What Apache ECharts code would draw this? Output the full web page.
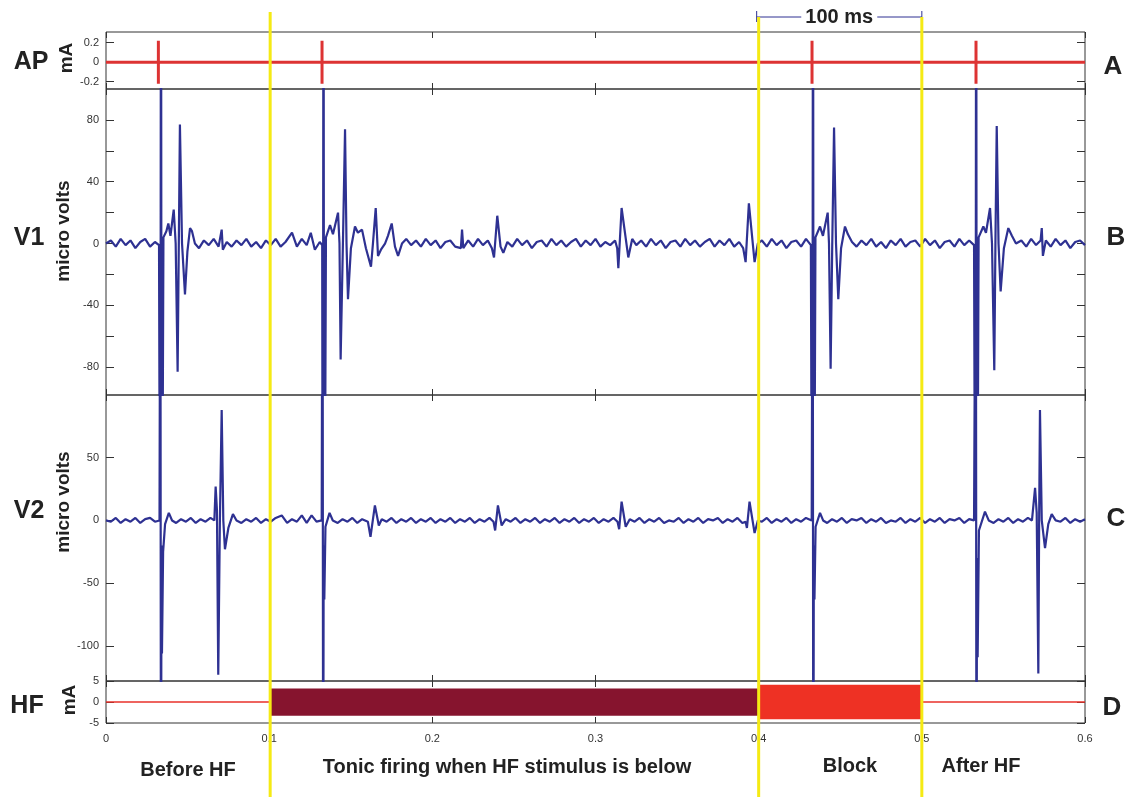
<!DOCTYPE html>
<html><head><meta charset="utf-8">
<script src="https://cdn.jsdelivr.net/npm/echarts@6/dist/echarts.min.js"></script>
<style>html,body{margin:0;padding:0;background:#fff}#c{width:1127px;height:797px}</style>
</head><body><div id="c"></div>
<script>
// ---------------- DATA ----------------
const xTickLabels = ['0','0.1','0.2','0.3','0.4','0.5','0.6'];
const apTicks = [-0.2, 0, 0.2];
const v1Ticks = [-80,-60,-40,-20,0,20,40,60,80];
const v1Labels = [-80,-40,0,40,80];
const v2Ticks = [-100,-50,0,50];
const hfTicks = [-5,0,5];

const apSpikeTimes = [0.0321, 0.1324, 0.4327, 0.5332];
const apSpikeAmp = 0.22;

const v1 = [
[0.000,0],[0.003,2],[0.006,-2],[0.009,3],[0.012,-1],[0.015,2],[0.018,-3],[0.021,1],[0.024,3],[0.027,-2],[0.030,1],[0.0325,-1],
[0.0333,-300],[0.0337,300],[0.0341,-300],[0.0352,4],[0.0370,8],[0.0382,13],[0.0395,5],[0.0415,22],[0.0427,0],[0.0439,-83],[0.0453,77],[0.0466,0],[0.0484,-33],[0.0499,-5],[0.0515,10],[0.0527,8],[0.0545,0],
[0.057,-3],[0.060,2],[0.063,-1],[0.066,3],[0.069,-2],[0.0709,9],[0.0716,-4],[0.074,1],[0.077,-2],[0.080,2],[0.083,-1],[0.086,3],[0.089,-2],[0.092,1],[0.095,-3],[0.098,2],[0.101,-1],[0.104,3],[0.107,-2],[0.110,1],[0.114,7],[0.117,-2],[0.120,3],[0.123,-1],[0.1255,7],[0.128,-4],[0.131,1],[0.1325,-1],
[0.1329,-300],[0.1333,300],[0.1337,-300],[0.1348,4],[0.1373,12],[0.1391,6],[0.1422,20],[0.1431,0],[0.1438,-75],[0.1452,0],[0.1465,74],[0.1474,0],[0.1483,-36],[0.1501,-3],[0.1526,11],[0.1544,7],[0.1569,9],[0.1593,-3],[0.1624,-15],[0.1636,0],[0.1653,23],[0.1667,-8],[0.1685,-4],[0.171,0],[0.1728,5],[0.1751,13],[0.1771,-2],[0.179,-8],[0.1814,0],
[0.184,3],[0.187,-1],[0.190,2],[0.193,-2],[0.196,3],[0.199,-1],[0.202,2],[0.205,-3],[0.208,1],[0.211,2],[0.214,-2],[0.2175,-3],[0.2182,9],[0.219,-3],[0.222,2],[0.225,-2],[0.228,3],[0.231,-1],[0.234,2],[0.2365,-3],[0.2378,-9],[0.2398,18],[0.2418,-2],[0.2435,-6],[0.246,1],
[0.249,-2],[0.252,3],[0.255,-1],[0.258,2],[0.261,-3],[0.264,1],[0.267,2],[0.270,-2],[0.273,3],[0.276,-1],[0.279,2],[0.282,-2],[0.285,1],[0.288,3],[0.291,-2],[0.294,2],[0.297,-1],[0.300,3],[0.303,-2],[0.306,1],[0.309,-1],[0.312,2],[0.3133,-3],[0.314,-16],[0.316,23],[0.3201,-9],
[0.3225,3],[0.325,-1],[0.328,2],[0.331,-2],[0.334,3],[0.337,-1],[0.340,2],[0.343,-3],[0.346,1],[0.349,2],[0.352,-2],[0.355,3],[0.358,-1],[0.361,2],[0.364,-2],[0.367,1],[0.370,3],[0.373,-2],[0.376,2],[0.379,-1],[0.382,3],[0.385,-2],[0.388,1],[0.3905,-3],[0.392,-12],[0.394,26],[0.3975,-12],[0.3995,0],
[0.402,2],[0.405,-2],[0.408,3],[0.411,-1],[0.414,2],[0.417,-3],[0.420,1],[0.423,2],[0.426,-2],[0.429,3],[0.432,-1],
[0.4329,-300],[0.4333,300],[0.4337,-300],[0.4348,4],[0.4376,11],[0.4394,5],[0.4423,20],[0.4431,0],[0.4441,-81],[0.4451,0],[0.4462,75],[0.4474,0],[0.4488,-36],[0.4505,-3],[0.4529,11],[0.4547,6],[0.4572,1],[0.460,-2],
[0.463,2],[0.466,-1],[0.469,3],[0.472,-2],[0.475,1],[0.478,-3],[0.481,2],[0.484,-1],[0.487,3],[0.490,-2],[0.493,1],[0.496,2],[0.499,-2],[0.502,3],[0.505,-1],[0.508,2],[0.511,-3],[0.514,1],[0.517,2],[0.520,-2],[0.523,3],[0.526,-1],[0.529,2],[0.532,-1],
[0.5329,-300],[0.5333,300],[0.5337,-300],[0.5348,4],[0.5377,11],[0.5393,7],[0.5418,23],[0.5430,0],[0.5444,-82],[0.5451,0],[0.5459,76],[0.5470,0],[0.5483,-31],[0.5503,-3],[0.5530,10],[0.5552,5],[0.5577,0],
[0.561,2],[0.564,-2],[0.567,3],[0.570,-1],[0.5728,2],[0.5735,10],[0.5742,-8],[0.576,2],[0.579,-2],[0.582,3],[0.585,-1],[0.588,2],[0.591,-3],[0.594,1],[0.597,2],[0.600,-1]
];

const v2 = [
[0.000,0],[0.003,-1],[0.006,2],[0.009,-2],[0.012,1],[0.015,-1],[0.018,2],[0.021,-2],[0.024,1],[0.027,2],[0.030,-1],[0.0328,0],
[0.0333,300],[0.0337,-300],[0.0340,-20],[0.0343,-106],[0.0350,-25],[0.0362,-3],[0.0385,6],[0.0405,0],
[0.043,-2],[0.046,1],[0.049,-1],[0.052,2],[0.055,-2],[0.058,1],[0.061,-1],[0.064,2],[0.0664,0],
[0.0672,27],[0.0680,8],[0.0688,-123],[0.0698,0],[0.0709,88],[0.0719,0],[0.0729,-23],[0.0750,-6],[0.0778,5],[0.0800,0],
[0.083,-2],[0.086,1],[0.089,-1],[0.092,2],[0.095,-2],[0.098,1],[0.101,-1],[0.104,2],[0.1077,4],[0.111,-2],[0.114,1],[0.117,-1],[0.120,4],[0.123,-2],[0.126,4],[0.129,-1],[0.1322,0],
[0.1327,300],[0.1331,-300],[0.1334,-20],[0.1338,-63],[0.1345,-5],[0.1370,6],[0.1390,0],
[0.142,-2],[0.145,1],[0.148,-1],[0.151,2],[0.154,-2],[0.157,1],[0.1605,-1],[0.1621,-13],[0.1648,12],[0.1672,-4],[0.169,1],
[0.172,-1],[0.175,2],[0.178,-2],[0.181,1],[0.184,-1],[0.187,2],[0.190,-2],[0.193,1],[0.196,-1],[0.199,2],[0.202,-2],[0.205,1],[0.208,-1],[0.211,2],[0.214,-2],[0.217,1],[0.220,-1],[0.223,2],[0.226,-2],[0.229,1],[0.232,-1],[0.235,2],[0.2375,-1],[0.2385,-8],[0.2402,12],[0.2425,-4],[0.245,1],
[0.248,-1],[0.251,2],[0.254,-2],[0.257,1],[0.260,-1],[0.263,2],[0.266,-2],[0.269,1],[0.272,-1],[0.275,2],[0.278,-2],[0.281,1],[0.284,-1],[0.287,2],[0.290,-2],[0.293,1],[0.296,-1],[0.299,2],[0.302,-2],[0.305,1],[0.308,-1],[0.311,2],
[0.3135,-1],[0.3145,-7],[0.3160,15],[0.3185,-5],[0.321,1],
[0.324,-1],[0.327,2],[0.330,-2],[0.333,1],[0.336,-1],[0.339,2],[0.342,-2],[0.345,0],[0.348,-1],[0.351,2],[0.354,-2],[0.357,1],[0.360,-1],[0.363,2],[0.366,-2],[0.369,1],[0.372,0],[0.375,2],[0.378,-2],[0.381,1],[0.384,-1],[0.387,2],[0.390,-2],
[0.392,-1],[0.3928,-6],[0.3944,15],[0.3975,-10],[0.3995,0],
[0.402,-1],[0.405,2],[0.408,-2],[0.411,1],[0.414,-1],[0.417,2],[0.420,-2],[0.423,1],[0.426,-1],[0.429,2],[0.4325,0],
[0.4331,300],[0.4335,-300],[0.4338,-20],[0.4342,-63],[0.4349,-5],[0.4376,6],[0.4395,0],
[0.442,-2],[0.445,1],[0.448,-1],[0.451,2],[0.454,-2],[0.457,1],[0.460,0],[0.463,2],[0.466,-2],[0.469,1],[0.472,-1],[0.475,2],[0.478,-2],[0.481,0],[0.484,-1],[0.487,2],[0.490,-2],[0.493,1],[0.496,-1],[0.499,2],[0.502,-2],[0.505,1],[0.508,-1],[0.511,2],[0.514,-2],[0.517,1],[0.520,0],[0.523,2],[0.526,-2],[0.529,1],[0.532,0],
[0.5331,300],[0.5335,-300],[0.5338,-30],[0.5342,-109],[0.5350,-8],[0.5387,7],[0.541,0],
[0.544,-2],[0.547,1],[0.550,-1],[0.553,2],[0.556,-2],[0.559,1],[0.562,-1],[0.565,2],[0.5675,0],
[0.5694,26],[0.5704,6],[0.5714,-122],[0.5719,0],[0.5724,88],[0.5735,0],[0.5755,-22],[0.5775,-3],[0.5796,5],[0.582,0],
[0.585,-1],[0.588,2],[0.591,-2],[0.594,1],[0.597,-1],[0.600,1]
];

const hfStart = [0, 0.1, 0.4, 0.5];
const hfEnd   = [0.1, 0.4, 0.5, 0.6];
const hfHigh  = [0, 3.2, 4.1, 0];
const hfLow   = [0, -3.3, -4.1, 0];

const markerTimes = [0.1, 0.4, 0.5];
const scaleBar = [0.4, 0.5];
const scaleBarText = '100 ms';
const phaseLabels = ['Before HF', 'Tonic firing when HF stimulus is below', 'Block', 'After HF'];
const panelNames = ['AP', 'V1', 'V2', 'HF'];
const panelUnits = ['mA', 'micro volts', 'micro volts', 'mA'];
const panelLetters = ['A', 'B', 'C', 'D'];

// ---------------- STYLE / LAYOUT ----------------
const FF = "'Liberation Sans', Arial, sans-serif";
const BLUE = '#2e3192', RED = '#dd3333';
const hfColors = ['#e8302a', '#86142e', '#ee3124', '#e8302a'];
const grids = [
  {left:106, right:42, top:32, height:57},
  {left:106, right:42, top:89, height:306},
  {left:106, right:42, top:395, height:286},
  {left:106, right:42, top:681, height:42}
];
const yRanges = [[-0.275, 0.31], [-98, 100], [-128, 100], [-5, 5]];
const yTickSets = [apTicks, v1Ticks, v2Ticks, hfTicks];
const yLabelSets = [apTicks, v1Labels, v2Ticks, hfTicks];

const xAxes = [], yAxes = [];
for (let pos of ['bottom', 'top']) {
  grids.forEach((g, i) => {
    xAxes.push({
      type:'value', gridIndex:i, min:0, max:0.6, interval:0.1, position:pos,
      axisLine:{show:false, onZero:false}, splitLine:{show:false},
      axisTick:{show:true, inside:true, length:6, lineStyle:{color:'#333'}},
      axisLabel:{show: (i === 3 && pos === 'bottom'), fontSize:11, color:'#333', fontFamily:FF, margin:10,
        formatter: v => xTickLabels[Math.round(v * 10)]}
    });
  });
}
for (let pos of ['left', 'right']) {
  grids.forEach((g, i) => {
    yAxes.push({
      type:'value', gridIndex:i, min:yRanges[i][0], max:yRanges[i][1], position:pos,
      axisLine:{show:false, onZero:false}, splitLine:{show:false},
      axisTick:{show:true, inside:true, length:8, customValues:yTickSets[i], lineStyle:{color:'#333'}},
      axisLabel:{show: pos === 'left', customValues:yLabelSets[i], fontSize:11, color:'#333', fontFamily:FF, margin:7,
        showMinLabel:true, showMaxLabel:true}
    });
  });
}

const apData = [[0, 0]];
apSpikeTimes.forEach(t => apData.push([t, 0], [t, apSpikeAmp], [t, -apSpikeAmp], [t, 0]));
apData.push([0.6, 0]);

const chart = echarts.init(document.getElementById('c'), null, {renderer:'canvas'});
chart.setOption({
  animation:false,
  backgroundColor:'#fff',
  grid: grids.map(g => Object.assign({show:true, borderColor:'#333', borderWidth:1, backgroundColor:'transparent'}, g)),
  xAxis: xAxes,
  yAxis: yAxes,
  series: [
    {type:'line', xAxisIndex:0, yAxisIndex:0, data:apData, showSymbol:false, clip:true,
      lineStyle:{color:RED, width:3}, itemStyle:{color:RED}},
    {type:'line', xAxisIndex:1, yAxisIndex:1, data:v1, showSymbol:false, clip:true,
      lineStyle:{color:BLUE, width:2.2}, itemStyle:{color:BLUE}},
    {type:'line', xAxisIndex:2, yAxisIndex:2, data:v2, showSymbol:false, clip:true,
      lineStyle:{color:BLUE, width:2.2}, itemStyle:{color:BLUE}},
    {type:'custom', xAxisIndex:3, yAxisIndex:3,
      data: hfStart.map((s, i) => [s, hfEnd[i], hfHigh[i], hfLow[i]]),
      encode:{x:[0,1], y:[2,3]},
      renderItem: function (params, api) {
        const i = params.dataIndex;
        const s = api.value(0), e = api.value(1), hi = api.value(2), lo = api.value(3);
        if (hi === lo) {
          const p1 = api.coord([s, hi]), p2 = api.coord([e, hi]);
          return {type:'line', shape:{x1:p1[0], y1:p1[1], x2:p2[0], y2:p2[1]}, style:{stroke:hfColors[i], lineWidth:1.5}};
        }
        const a = api.coord([s, hi]), b = api.coord([e, lo]);
        return {type:'rect', shape:{x:a[0], y:a[1], width:b[0]-a[0], height:b[1]-a[1]}, style:{fill:hfColors[i]}};
      }
    }
  ]
});

// ---------------- ANNOTATIONS ----------------
const px = t => chart.convertToPixel({xAxisIndex:3}, t);
const g = [];
function txt(text, x, y, size, weight, rot) {
  g.push({type:'text', x:x, y:y, rotation: rot || 0, z:50,
    style:{text:text, fontSize:size, fontWeight:weight, fontFamily:FF, fill:'#222', align:'center', verticalAlign:'middle'}});
}
const nameCenters = [[31, 62], [29, 238], [29, 511], [27, 706]];
const unitCenters = [[67, 58], [64, 231], [64, 502], [70, 700]];
const letterCenters = [[1113, 67], [1116, 238], [1116, 519], [1112, 708]];
panelNames.forEach((n, i) => txt(n, nameCenters[i][0], nameCenters[i][1], 25, 'bold'));
panelUnits.forEach((n, i) => txt(n, unitCenters[i][0], unitCenters[i][1], 19, 'bold', Math.PI / 2));
panelLetters.forEach((n, i) => txt(n, letterCenters[i][0], letterCenters[i][1], 26, 'bold'));
const phaseCenters = [[188, 770], [507, 767], [850, 766], [981, 766]];
phaseLabels.forEach((n, i) => txt(n, phaseCenters[i][0], phaseCenters[i][1], 20, 'bold'));

// yellow phase markers
markerTimes.forEach((t, i) => {
  const x = px(t) + (i === 0 ? 1 : 0);
  g.push({type:'line', z:100, shape:{x1:x, y1: i === 0 ? 12 : 17, x2:x, y2:797}, style:{stroke:'#f5ea14', lineWidth:3}});
});

// 100 ms scale bar
const sx1 = px(scaleBar[0]) - 2, sx2 = px(scaleBar[1]), sy = 17, mid = (sx1 + sx2) / 2;
g.push({type:'line', z:90, shape:{x1:sx1, y1:sy, x2:mid - 38, y2:sy}, style:{stroke:BLUE, lineWidth:1}});
g.push({type:'line', z:90, shape:{x1:mid + 38, y1:sy, x2:sx2, y2:sy}, style:{stroke:BLUE, lineWidth:1}});
g.push({type:'line', z:90, shape:{x1:sx1, y1:sy - 6, x2:sx1, y2:sy + 5}, style:{stroke:BLUE, lineWidth:1}});
g.push({type:'line', z:90, shape:{x1:sx2, y1:sy - 6, x2:sx2, y2:sy + 5}, style:{stroke:BLUE, lineWidth:1}});
txt(scaleBarText, mid, sy, 20, 'bold');

chart.setOption({graphic: g});
</script>
</body></html>
